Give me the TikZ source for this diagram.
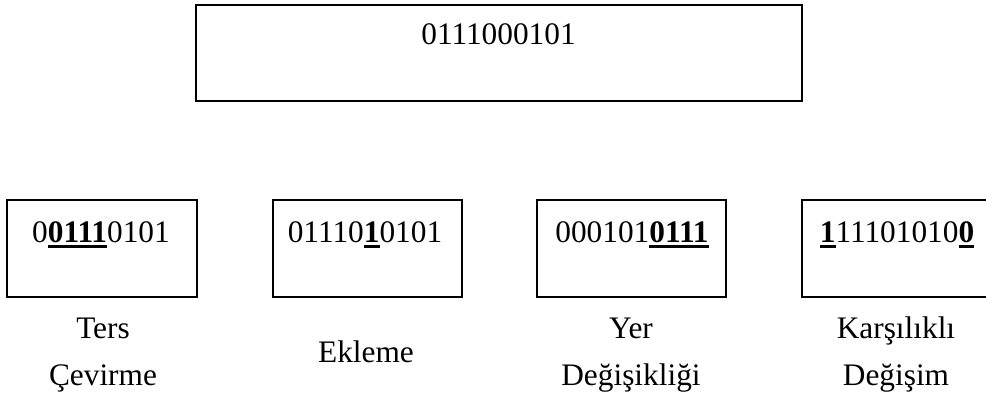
\documentclass[tikz,border=0pt]{standalone}
\usepackage{fontspec}
\setmainfont{Liberation Serif}
\newcommand\bul[1]{\setbox0\hbox{\bfseries #1}\rlap{\rule[-4.5pt]{\wd0}{2.25pt}}\box0\relax}
\begin{document}
\begin{tikzpicture}[x=0.75pt,y=-0.75pt,
  box/.style={draw,line width=2pt,inner sep=0pt,minimum height=72.75pt,minimum width=142.5pt},
  bits/.style={anchor=base,inner sep=0pt,font=\fontsize{23.5}{28}\selectfont},
  lbl/.style={anchor=base,inner sep=0pt,align=center,font=\fontsize{23.5}{35.25}\selectfont}]
\useasboundingbox (0,0) rectangle (986,396);
\clip (0,0) rectangle (986,396);
\node[box,minimum width=454.5pt,minimum height=72pt] (top) at (499,53) {};
\node[bits] (toptxt) at (498.5,44) {0111000101};
\node[box] (b1) at (102,248.5) {};
\node[box,minimum width=141.75pt] (b2) at (367.5,248.5) {};
\node[box,minimum width=141.75pt] (b3) at (631.5,248.5) {};
\node[box] (b4) at (897,248.5) {};
\node[bits] (t1) at (101,242) {0\bul{0111}0101};
\node[bits] (t2) at (365,242) {01110\bul{1}0101};
\node[bits] (t3) at (632,242) {000101\bul{0111}};
\node[bits] (t4) at (897,242) {\bul{1}11101010\bul{0}};
\node[lbl] (l1) at (103,385) {Ters\\Çevirme};
\node[lbl] (l2) at (366,362) {Ekleme};
\node[lbl] (l3) at (631,385) {Yer\\Değişikliği};
\node[lbl] (l4) at (896,385) {Karşılıklı\\Değişim};
\end{tikzpicture}
\end{document}
